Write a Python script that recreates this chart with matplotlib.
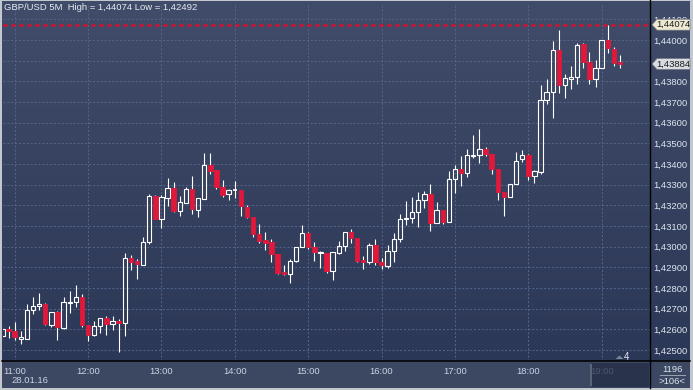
import numpy as np
import pandas as pd
import matplotlib
matplotlib.use("Agg")
import matplotlib.pyplot as plt
from matplotlib.patches import Rectangle, Polygon
from matplotlib.lines import Line2D
from matplotlib.colors import LinearSegmentedColormap

W, H = 693, 390

# GBP/USD 5 minute candles, 28.01.16 from 10:50 to 19:15
times = pd.date_range("2016-01-28 10:50", periods=102, freq="5min")

opens = [1.42568, 1.42600, 1.42591, 1.42555, 1.42555, 1.42692, 1.42712, 1.42723, 1.42622, 1.42684,
         1.42606, 1.42727, 1.42731, 1.42755, 1.42620, 1.42571, 1.42616, 1.42653, 1.42626, 1.42642,
         1.42629, 1.42945, 1.42929, 1.42913, 1.43024, 1.43245, 1.43136, 1.43237, 1.43283, 1.43174,
         1.43213, 1.43278, 1.43179, 1.43232, 1.43394, 1.43370, 1.43287, 1.43254, 1.43273, 1.43273,
         1.43191, 1.43142, 1.43060, 1.43032, 1.43024, 1.42963, 1.42878, 1.42866, 1.42929, 1.42997,
         1.43065, 1.42997, 1.42968, 1.42968, 1.42884, 1.42971, 1.43002, 1.43070, 1.43041, 1.42936,
         1.42924, 1.43007, 1.42926, 1.42907, 1.42981, 1.43036, 1.43133, 1.43141, 1.43166, 1.43226,
         1.43255, 1.43113, 1.43178, 1.43121, 1.43326, 1.43375, 1.43355, 1.43439, 1.43444, 1.43471,
         1.43447, 1.43375, 1.43263, 1.43242, 1.43302, 1.43426, 1.43442, 1.43344, 1.43363, 1.43709,
         1.43747, 1.43951, 1.43781, 1.43813, 1.43820, 1.43980, 1.43892, 1.43810, 1.43866, 1.43999,
         1.43955, 1.43892]

highs = [1.42621, 1.42616, 1.42637, 1.42593, 1.42724, 1.42755, 1.42776, 1.42729, 1.42682, 1.42689,
         1.42755, 1.42787, 1.42815, 1.42771, 1.42622, 1.42639, 1.42653, 1.42665, 1.42663, 1.42649,
         1.42968, 1.42960, 1.42939, 1.43047, 1.43255, 1.43250, 1.43250, 1.43333, 1.43313, 1.43245,
         1.43287, 1.43342, 1.43234, 1.43454, 1.43454, 1.43370, 1.43323, 1.43279, 1.43318, 1.43273,
         1.43202, 1.43142, 1.43110, 1.43071, 1.43036, 1.42963, 1.42910, 1.42939, 1.42997, 1.43105,
         1.43073, 1.43024, 1.42979, 1.42968, 1.42976, 1.43029, 1.43070, 1.43084, 1.43041, 1.42955,
         1.43019, 1.43036, 1.42947, 1.43008, 1.43065, 1.43158, 1.43219, 1.43241, 1.43266, 1.43270,
         1.43303, 1.43218, 1.43178, 1.43366, 1.43395, 1.43439, 1.43471, 1.43541, 1.43570, 1.43481,
         1.43447, 1.43375, 1.43263, 1.43302, 1.43457, 1.43468, 1.43449, 1.43371, 1.43783, 1.43812,
         1.43996, 1.44049, 1.43836, 1.43875, 1.43984, 1.43987, 1.43942, 1.43904, 1.43999, 1.44074,
         1.43968, 1.43928]

lows = [1.42548, 1.42558, 1.42548, 1.42529, 1.42555, 1.42673, 1.42694, 1.42620, 1.42613, 1.42548,
        1.42600, 1.42678, 1.42708, 1.42610, 1.42545, 1.42569, 1.42581, 1.42573, 1.42597, 1.42492,
        1.42569, 1.42887, 1.42845, 1.42911, 1.43015, 1.43136, 1.43091, 1.43198, 1.43169, 1.43149,
        1.43213, 1.43158, 1.43145, 1.43232, 1.43350, 1.43279, 1.43242, 1.43226, 1.43234, 1.43149,
        1.43137, 1.43048, 1.43018, 1.42984, 1.42927, 1.42868, 1.42863, 1.42823, 1.42927, 1.42997,
        1.42989, 1.42932, 1.42895, 1.42871, 1.42839, 1.42963, 1.42981, 1.43016, 1.42927, 1.42892,
        1.42916, 1.42911, 1.42892, 1.42895, 1.42927, 1.43024, 1.43103, 1.43116, 1.43095, 1.43189,
        1.43077, 1.43113, 1.43108, 1.43121, 1.43261, 1.43295, 1.43339, 1.43428, 1.43404, 1.43439,
        1.43350, 1.43226, 1.43149, 1.43239, 1.43302, 1.43411, 1.43323, 1.43310, 1.43350, 1.43689,
        1.43624, 1.43745, 1.43721, 1.43763, 1.43787, 1.43866, 1.43786, 1.43774, 1.43863, 1.43936,
        1.43876, 1.43866]

closes = [1.42600, 1.42591, 1.42561, 1.42564, 1.42692, 1.42713, 1.42721, 1.42624, 1.42682, 1.42610,
          1.42731, 1.42734, 1.42755, 1.42620, 1.42571, 1.42615, 1.42653, 1.42624, 1.42640, 1.42632,
          1.42944, 1.42927, 1.42915, 1.43024, 1.43245, 1.43136, 1.43241, 1.43283, 1.43174, 1.43215,
          1.43278, 1.43181, 1.43234, 1.43395, 1.43368, 1.43287, 1.43252, 1.43273, 1.43273, 1.43196,
          1.43142, 1.43060, 1.43029, 1.43020, 1.42963, 1.42874, 1.42866, 1.42929, 1.42997, 1.43065,
          1.42997, 1.42973, 1.42976, 1.42884, 1.42973, 1.43002, 1.43070, 1.43041, 1.42932, 1.42924,
          1.43008, 1.42924, 1.42911, 1.42981, 1.43036, 1.43133, 1.43141, 1.43166, 1.43226, 1.43255,
          1.43113, 1.43178, 1.43121, 1.43326, 1.43375, 1.43355, 1.43444, 1.43444, 1.43471, 1.43447,
          1.43375, 1.43263, 1.43242, 1.43302, 1.43416, 1.43442, 1.43344, 1.43365, 1.43709, 1.43747,
          1.43951, 1.43781, 1.43815, 1.43820, 1.43975, 1.43892, 1.43810, 1.43866, 1.43999, 1.43960,
          1.43888, 1.43884]

price_ticks = np.round(np.arange(1.425, 1.4415, 0.001), 3)
hidden_ticks = [1.439]   # fully covered by the last-price tag
bars_total = "1196"
bars_shown = ">106<"
marker_count = "4"

plt.rcParams['font.family'] = ['Liberation Sans', 'DejaVu Sans']

def fx(x):
    return x / W

def fy(y):
    return 1 - y / H

def comma(v):
    return "{:.5f}".format(v).replace('.', ',')

fig = plt.figure(figsize=(W / 100, H / 100), dpi=100)
fig.patch.set_facecolor('#c3c7ce')

# gradient background behind everything
bg = fig.add_axes([fx(2), fy(388), 688 / W, 387 / H])
bg.set_zorder(-3)
grad = np.linspace(0, 1, 256).reshape(-1, 1)
cmap = LinearSegmentedColormap.from_list('bg', ['#404c69', '#2a3655'])
bg.imshow(grad, aspect='auto', cmap=cmap, extent=[0, 1, 0, 1])
bg.axis('off')

# time axis strip
fig.add_artist(Rectangle((fx(2), fy(388)), 688 / W, 27 / H, transform=fig.transFigure,
                         facecolor='#3c4862', edgecolor='none', zorder=-2))

ax = fig.add_axes([fx(3), fy(361), 647 / W, 358 / H])
ax.patch.set_alpha(0)
ax.set_xlim(0.09, 105.9)
ax.set_ylim(1.42447, 1.44179)

hour_idx = [i for i, t in enumerate(times) if t.minute == 0]
ax.set_xticks(hour_idx)
ax.set_xticklabels([times[i].strftime('%H:%M') for i in hour_idx])
ax.set_yticks(price_ticks)
ax.set_yticklabels(['' if v in hidden_ticks else comma(v) for v in price_ticks])
ax.yaxis.tick_right()
ax.tick_params(axis='y', length=0, pad=2.2, labelsize=6.8, labelcolor='#dfe5ef')
ax.tick_params(axis='x', length=0, pad=4.2, labelsize=6.8, labelcolor='#c9d3e3')
for s in ax.spines.values():
    s.set_visible(False)
ax.grid(True, color='#56668a', lw=0.7, ls=(0, (2, 2)))
ax.set_axisbelow(True)

# candles
x = np.arange(len(times))
bw = 0.72
for i in range(len(x)):
    o, h, l, c = opens[i], highs[i], lows[i], closes[i]
    top, bot = max(o, c), min(o, c)
    ax.vlines(x[i], top, h, color='white', lw=0.8, zorder=3)
    ax.vlines(x[i], l, bot, color='white', lw=0.8, zorder=3)
    if c >= o:
        if top - bot < 0.00004:
            ax.hlines(top, x[i] - bw / 2, x[i] + bw / 2, color='white', lw=1.2, zorder=3)
        else:
            ax.add_patch(Rectangle((x[i] - bw / 2, bot), bw, top - bot, facecolor='none',
                                   edgecolor='white', lw=0.8, zorder=3))
    else:
        ax.add_patch(Rectangle((x[i] - bw / 2, bot), bw, top - bot, facecolor='#e0183a',
                               edgecolor='#e0183a', lw=0.6, zorder=3))

hi = max(highs)
lo = min(lows)
ax.axhline(hi, color='#d8102c', lw=1.8, ls=(0, (1.6, 1.6)), zorder=2)

# title
fig.text(fx(4), fy(8), "GBP/USD 5M  High = {} Low = {}".format(comma(hi), comma(lo)),
         ha='left', va='center', fontsize=6.8, color='#e6eaf2')
fig.text(fx(30), fy(380.5), times[0].strftime('%d.%m.%y'), ha='center', va='center',
         fontsize=6.8, color='#c9d3e3')

# price tags on the right axis
def ypx(v):
    y0, y1 = ax.get_ylim()
    return 3 + (y1 - v) / (y1 - y0) * 358

def tag(v, face):
    yc = ypx(v)
    pts = [(652, yc), (657, yc - 5.5), (690, yc - 5.5), (690, yc + 5.5), (657, yc + 5.5)]
    fig.add_artist(Polygon([(fx(a), fy(b)) for a, b in pts], closed=True, transform=fig.transFigure,
                           facecolor=face, edgecolor='#6e737c', lw=0.5, zorder=5))
    fig.text(fx(673), fy(yc), comma(v), ha='center', va='center', fontsize=6.8,
             color='#1c1c1c', zorder=6)

tag(hi, '#eee8d2')
tag(closes[-1], '#d8dce2')

# scroll box over the last hour label
fig.add_artist(Rectangle((fx(591), fy(387)), 58 / W, 24 / H, transform=fig.transFigure,
                         facecolor='#232c44', edgecolor='none', alpha=0.75, zorder=5))
fig.add_artist(Rectangle((fx(589.5), fy(386)), 2 / W, 22 / H, transform=fig.transFigure,
                         facecolor='#5c6478', edgecolor='none', zorder=5))

fig.add_artist(Polygon([(fx(615.5), fy(359)), (fx(619.5), fy(355.5)), (fx(623.5), fy(359))],
                       closed=True, transform=fig.transFigure, facecolor='#7c8498',
                       edgecolor='none', zorder=5))
fig.text(fx(627), fy(356.5), marker_count, ha='center', va='center', fontsize=7,
         color='#e8ecf4', zorder=6)

fig.text(fx(672), fy(369), bars_total, ha='center', va='center', fontsize=6.8, color='#dfe5ef')
fig.add_artist(Line2D([fx(660), fx(685)], [fy(375), fy(375)], color='#9aa2b4', lw=0.7,
                      transform=fig.transFigure))
fig.text(fx(672), fy(381), bars_shown, ha='center', va='center', fontsize=6.8, color='#dfe5ef')

# separator lines
fig.add_artist(Line2D([fx(650), fx(650)], [fy(0), fy(388)], color='black', lw=1.0,
                      transform=fig.transFigure, zorder=4))
fig.add_artist(Line2D([fx(2), fx(690)], [fy(361), fy(361)], color='black', lw=1.1,
                      transform=fig.transFigure, zorder=4))

fig.savefig('out.png', dpi=100)
